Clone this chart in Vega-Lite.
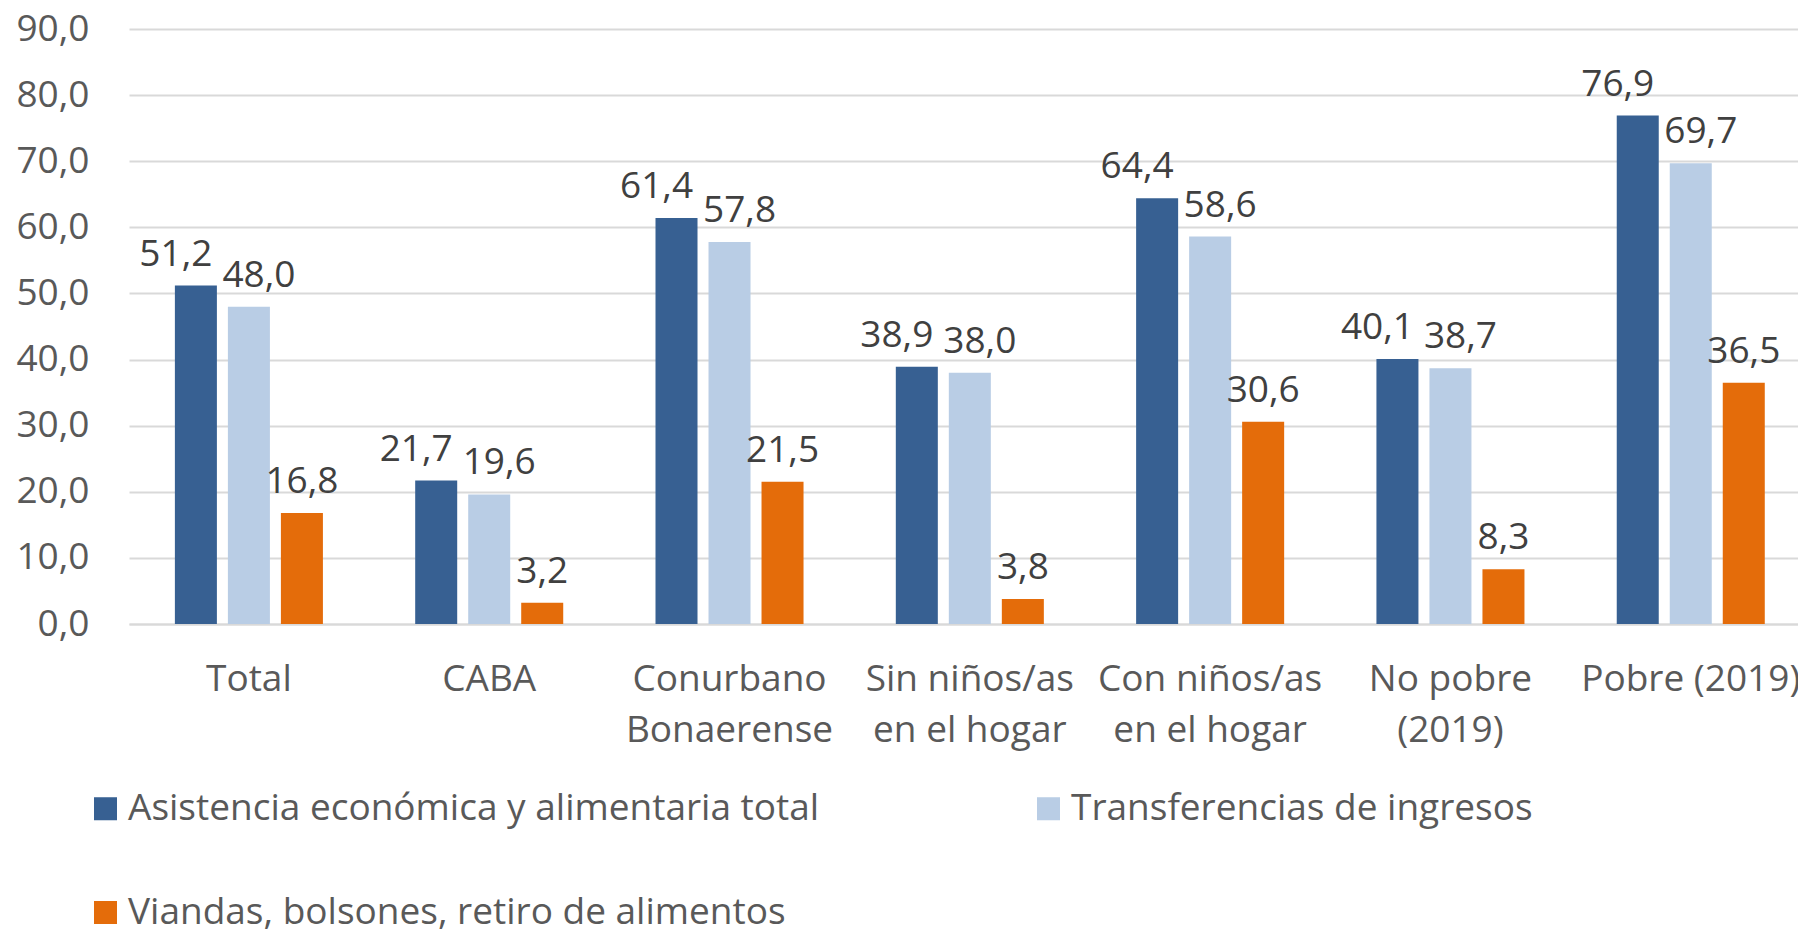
{
  "$schema": "https://vega.github.io/schema/vega-lite/v6.json",
  "width": 1669,
  "height": 595,
  "autosize": {"type": "none"},
  "padding": {"left": 129, "top": 29, "right": 0, "bottom": 305},
  "background": "white",
  "config": {
    "locale": {"number": {"decimal": ",", "thousands": ".", "grouping": [3], "currency": ["", " €"]}},
    "view": {"stroke": null},
    "font": "Open Sans",
    "legend": {
      "orient": "none",
      "legendX": -42,
      "legendY": 761,
      "direction": "horizontal",
      "columns": 2,
      "padding": 0,
      "symbolType": "square",
      "symbolSize": 530,
      "symbolStrokeWidth": 0,
      "labelFontSize": 37,
      "labelColor": "#595959",
      "labelLimit": 1000,
      "labelOffset": 4,
      "columnPadding": 210,
      "rowPadding": 66
    }
  },
  "data": {
    "values": [
      {"grupo": "Total", "serie": "Asistencia económica y alimentaria total", "valor": 51.2},
      {"grupo": "Total", "serie": "Transferencias de ingresos", "valor": 48.0},
      {"grupo": "Total", "serie": "Viandas, bolsones, retiro de alimentos", "valor": 16.8},
      {"grupo": "CABA", "serie": "Asistencia económica y alimentaria total", "valor": 21.7},
      {"grupo": "CABA", "serie": "Transferencias de ingresos", "valor": 19.6},
      {"grupo": "CABA", "serie": "Viandas, bolsones, retiro de alimentos", "valor": 3.2},
      {"grupo": "Conurbano Bonaerense", "serie": "Asistencia económica y alimentaria total", "valor": 61.4},
      {"grupo": "Conurbano Bonaerense", "serie": "Transferencias de ingresos", "valor": 57.8},
      {"grupo": "Conurbano Bonaerense", "serie": "Viandas, bolsones, retiro de alimentos", "valor": 21.5},
      {"grupo": "Sin niños/as en el hogar", "serie": "Asistencia económica y alimentaria total", "valor": 38.9},
      {"grupo": "Sin niños/as en el hogar", "serie": "Transferencias de ingresos", "valor": 38.0},
      {"grupo": "Sin niños/as en el hogar", "serie": "Viandas, bolsones, retiro de alimentos", "valor": 3.8},
      {"grupo": "Con niños/as en el hogar", "serie": "Asistencia económica y alimentaria total", "valor": 64.4},
      {"grupo": "Con niños/as en el hogar", "serie": "Transferencias de ingresos", "valor": 58.6},
      {"grupo": "Con niños/as en el hogar", "serie": "Viandas, bolsones, retiro de alimentos", "valor": 30.6},
      {"grupo": "No pobre (2019)", "serie": "Asistencia económica y alimentaria total", "valor": 40.1},
      {"grupo": "No pobre (2019)", "serie": "Transferencias de ingresos", "valor": 38.7},
      {"grupo": "No pobre (2019)", "serie": "Viandas, bolsones, retiro de alimentos", "valor": 8.3},
      {"grupo": "Pobre (2019)", "serie": "Asistencia económica y alimentaria total", "valor": 76.9},
      {"grupo": "Pobre (2019)", "serie": "Transferencias de ingresos", "valor": 69.7},
      {"grupo": "Pobre (2019)", "serie": "Viandas, bolsones, retiro de alimentos", "valor": 36.5}
    ]
  },
  "encoding": {
    "x": {
      "field": "grupo",
      "type": "nominal",
      "sort": null,
      "scale": {"paddingInner": 0.384, "paddingOuter": 0.1646, "align": 0.58},
      "axis": {
        "title": null,
        "labelAngle": 0,
        "ticks": false,
        "domain": true,
        "domainColor": "#D9D9D9",
        "domainWidth": 2,
        "labelFontSize": 37,
        "labelColor": "#595959",
        "labelPadding": 37,
        "labelBaseline": "top",
        "labelLineHeight": 51,
        "labelLimit": 1000,
        "labelOverlap": false,
        "labelBound": false,
        "labelExpr": "datum.value == 'Conurbano Bonaerense' ? ['Conurbano', 'Bonaerense'] : datum.value == 'Sin niños/as en el hogar' ? ['Sin niños/as', 'en el hogar'] : datum.value == 'Con niños/as en el hogar' ? ['Con niños/as', 'en el hogar'] : datum.value == 'No pobre (2019)' ? ['No pobre', '(2019)'] : datum.value"
      }
    },
    "xOffset": {
      "field": "serie",
      "type": "nominal",
      "sort": null,
      "scale": {
        "domain": ["Asistencia económica y alimentaria total", "Transferencias de ingresos", "Viandas, bolsones, retiro de alimentos"],
        "paddingInner": 0.2075,
        "paddingOuter": 0
      }
    },
    "y": {
      "field": "valor",
      "type": "quantitative",
      "scale": {"domain": [0, 90], "nice": false},
      "axis": {
        "title": null,
        "values": [0, 10, 20, 30, 40, 50, 60, 70, 80, 90],
        "format": ".1f",
        "domain": false,
        "ticks": false,
        "grid": true,
        "gridColor": "#D9D9D9",
        "gridWidth": 2,
        "labelFontSize": 37,
        "labelColor": "#595959",
        "labelPadding": 40
      }
    }
  },
  "layer": [
    {
      "mark": {"type": "bar"},
      "encoding": {
        "color": {
          "field": "serie",
          "type": "nominal",
          "scale": {
            "domain": ["Asistencia económica y alimentaria total", "Transferencias de ingresos", "Viandas, bolsones, retiro de alimentos"],
            "range": ["#376092", "#B9CDE5", "#E46C0A"]
          },
          "legend": {"title": null}
        }
      }
    },
    {
      "transform": [{"filter": "datum.serie == 'Asistencia económica y alimentaria total'"}],
      "mark": {"type": "text", "dx": -20, "dy": -20, "baseline": "alphabetic", "fontSize": 37, "color": "#404040"},
      "encoding": {"text": {"field": "valor", "type": "quantitative", "format": ".1f"}}
    },
    {
      "transform": [{"filter": "datum.serie == 'Transferencias de ingresos'"}],
      "mark": {"type": "text", "dx": 10, "dy": -20, "baseline": "alphabetic", "fontSize": 37, "color": "#404040"},
      "encoding": {"text": {"field": "valor", "type": "quantitative", "format": ".1f"}}
    },
    {
      "transform": [{"filter": "datum.serie == 'Viandas, bolsones, retiro de alimentos'"}],
      "mark": {"type": "text", "dx": 0, "dy": -20, "baseline": "alphabetic", "fontSize": 37, "color": "#404040"},
      "encoding": {"text": {"field": "valor", "type": "quantitative", "format": ".1f"}}
    }
  ]
}
